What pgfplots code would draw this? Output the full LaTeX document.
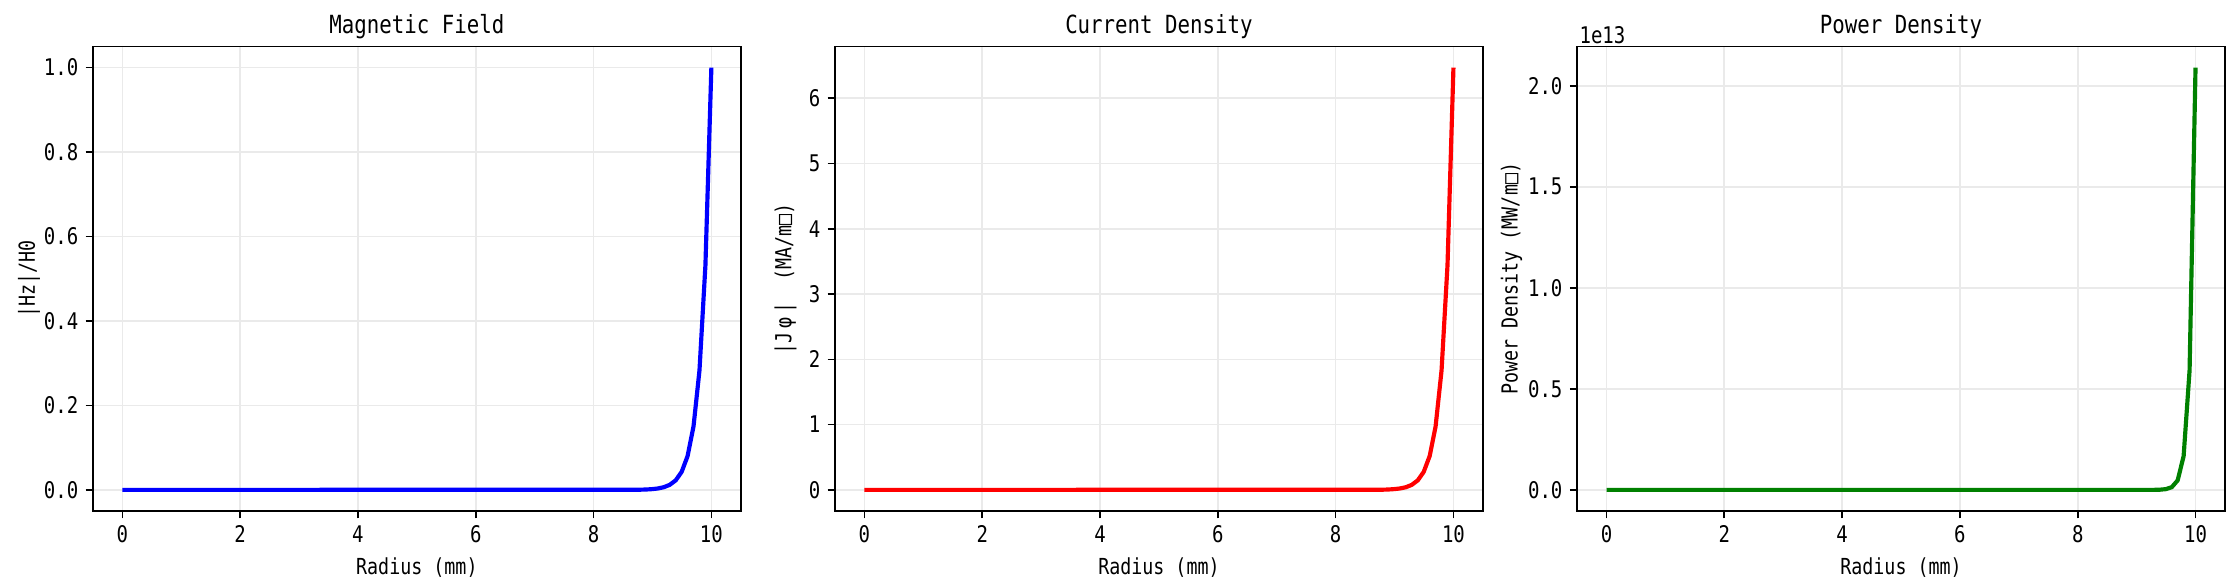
\documentclass[border=0pt]{standalone}
\usepackage{fontspec}
\setmainfont{DejaVu Sans Mono}[FakeStretch=0.83]
\usepackage{pgfplots}
\pgfplotsset{compat=1.18}
\definecolor{gridgray}{RGB}{234,234,234}
\definecolor{mplgreen}{RGB}{0,128,0}

\pgfplotsset{
  panel/.style={
    scale only axis, width=311pt, height=223pt,
    anchor=south west,
    xmin=-0.5, xmax=10.5, xtick={0,2,...,10},
    axis line style={line width=0.8pt, black},
    tick align=outside, tick pos=left, major tick length=3.5pt,
    every tick/.style={black, line width=0.8pt},
    grid=major, major grid style={gridgray, line width=0.8pt},
    tick label style={font=\fontsize{11}{13}\selectfont},
    label style={font=\fontsize{10.6}{12}\selectfont},
    every axis title/.style={at={(0.5,1)}, anchor=base, yshift=6pt, inner sep=0pt, font=\fontsize{12}{14}\selectfont},
    /pgf/number format/assume math mode=true,
    xlabel={Radius (mm)},
  },
  onedec/.style={
    /pgf/number format/fixed,
    /pgf/number format/fixed zerofill,
    /pgf/number format/precision=1,
  }
}

\begin{document}
\begin{tikzpicture}
\useasboundingbox (0,0) rectangle (1073.3pt,280.8pt);

% |Hz|/H0
\begin{axis}[panel, at={(44.6pt,35.5pt)},
  title={Magnetic Field}, ylabel={|Hz|/H0}, ylabel shift=-5pt,
  ymin=-0.05, ymax=1.05, ytick={0,0.2,...,1.0},
  yticklabel style={onedec}]
\addplot[blue, line width=2pt] coordinates {
(0,0) (8.788,0.0005) (8.889,0.00096) (8.990,0.0018) (9.091,0.0034)
(9.192,0.0064) (9.293,0.0120) (9.394,0.0226) (9.495,0.0426)
(9.596,0.0800) (9.697,0.1505) (9.798,0.2829) (9.899,0.5319) (10,1.0)};
\end{axis}

% |J phi|
\begin{axis}[panel, at={(400.8pt,35.5pt)},
  title={Current Density}, ylabel={|J\,φ\,|\ \ (MA/m□)}, ylabel shift=-1pt,
  ymin=-0.3235, ymax=6.7935, ytick={0,1,...,6}]
\addplot[red, line width=2pt] coordinates {
(0,0) (8.788,0.003) (8.889,0.006) (8.990,0.012) (9.091,0.022)
(9.192,0.041) (9.293,0.078) (9.394,0.146) (9.495,0.276)
(9.596,0.518) (9.697,0.974) (9.798,1.830) (9.899,3.441) (10,6.47)};
\end{axis}

% power density
\begin{axis}[panel, at={(757pt,35.5pt)},
  title={Power Density}, ylabel={Power Density (MW/m□)}, ylabel shift=-4pt,
  ymin=-0.1045e13, ymax=2.1945e13, ytick={0,0.5e13,1e13,1.5e13,2e13},
  scaled y ticks=base 10:-13,
  ytick scale label code/.code={1e13},
  every y tick scale label/.style={at={(rel axis cs:0,1)}, anchor=south west, inner sep=1pt},
  yticklabel style={onedec}]
\addplot[mplgreen, line width=2pt] coordinates {
(0,0) (9.192,8.6e8) (9.293,3.0e9) (9.394,1.07e10) (9.495,3.8e10)
(9.596,1.34e11) (9.697,4.73e11) (9.798,1.673e12) (9.899,5.913e12) (10,2.09e13)};
\end{axis}
\end{tikzpicture}
\end{document}
